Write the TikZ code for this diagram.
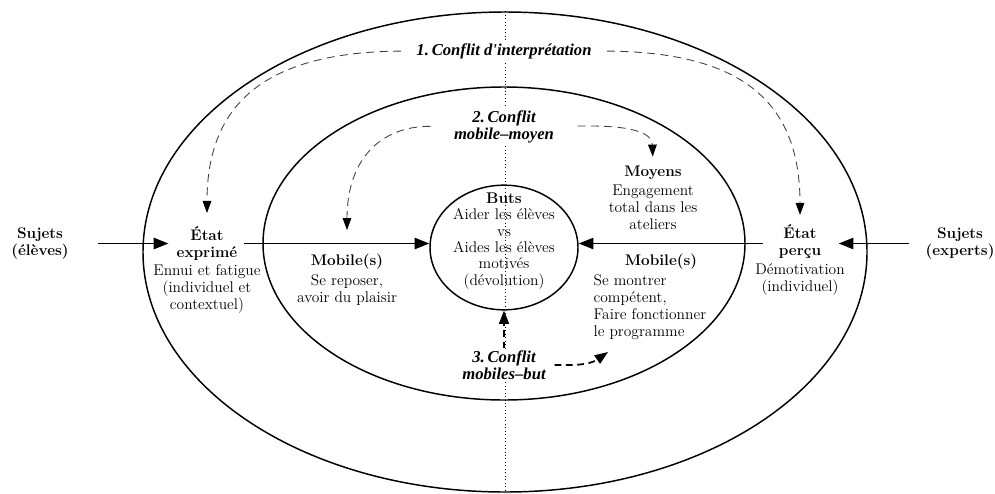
\documentclass[tikz,border=0pt]{standalone}
\usepackage{fontspec}
\newfontfamily\conffont{Liberation Serif}
\usetikzlibrary{shapes.geometric,arrows.meta}
\begin{document}
\begin{tikzpicture}[x=0.75pt,y=-0.75pt]
\tikzset{
  ring/.style={draw, ellipse, line width=1.1pt, inner sep=0pt},
  ttl/.style={font=\fontsize{11.5}{12.75}\selectfont\bfseries, align=center, inner sep=1pt},
  txt/.style={font=\fontsize{11.6}{12.75}\selectfont, align=center, inner sep=1pt},
  conf/.style={font=\conffont\fontsize{12.5}{12.75}\selectfont\bfseries\itshape, align=center, fill=white, inner sep=1.5pt},
  flow/.style={line width=1.1pt, -{Triangle[length=11pt,width=8.5pt]}},
  conflict/.style={line width=0.65pt, draw=black!75, dash pattern=on 6pt off 4pt, -{Triangle[length=9pt,width=6.5pt,black]}},
  conflictb/.style={line width=1.3pt, dash pattern=on 5pt off 3.5pt, -{Triangle[length=10pt,width=7.5pt]}},
  axisline/.style={dotted, line width=0.6pt}
}
\useasboundingbox (0,0) rectangle (995,493);

% ellipses
\node[ring, minimum width=543pt, minimum height=360pt] (outer) at (505,252) {};
\node[ring, minimum width=361.5pt, minimum height=234.75pt] (mid) at (504,243.5) {};
\node[ring, minimum width=111pt, minimum height=93.5pt] (buts) at (504,247.5) {};

% vertical dotted axis
\draw[axisline] (outer.north) -- (outer.south);

% text nodes
\node[ttl] (sujE) at (40,243.5) {Sujets\\(élèves)};
\node[ttl] (sujX) at (960,243.5) {Sujets\\(experts)};

\node[ttl] (etatEt) at (207,243.5) {État\\exprimé};
\node[txt] (etatEd) at (207,289) {Ennui et fatigue\\(individuel et\\contextuel)};

\node[ttl] (etatPt) at (800,241.5) {État\\perçu};
\node[txt] (etatPd) at (800,280) {Démotivation\\(individuel)};

\node[ttl] (mobLt) at (347,262) {Mobile(s)};
\node[txt] (mobLd) at (347,290) {Se reposer,\\avoir du plaisir};

\node[ttl] (moyT) at (653,173) {Moyens};
\node[txt] (moyD) at (653,207) {Engagement\\total dans les\\ateliers};

\node[ttl] (mobRt) at (661,262) {Mobile(s)};
\node[txt, align=left, anchor=west] (mobRd) at (592,307) {Se montrer\\compétent,\\Faire fonctionner\\le programme};

\node[txt, font=\fontsize{11.6}{12.3}\selectfont] (butsT) at (504,241) {\textbf{Buts}\\Aider les élèves\\vs\\Aides les élèves\\motivés\\(dévolution)};

\node[conf] (c1) at (504,51) {1.\,Conflit d'interprétation};
\node[conf] (c2) at (504,126.5) {2.\,Conflit\\mobile–moyen};
\node[conf] (c3) at (504,365) {3.\,Conflit\\mobiles–but};

\coordinate (prog) at (608,352);

% main flows
\draw[flow, shorten <=21pt, shorten >=5pt] (sujE.east) -- (etatEt.west);
\draw[flow, shorten <=4pt] (etatEt.east) -- (etatEt.east -| buts.west);
\draw[flow, shorten <=11pt, shorten >=12pt] (sujX.west) -- (etatPt.east |- sujX.west);
\draw[flow, shorten <=11pt] (etatPt.west |- sujX.west) -- (sujX.west -| buts.east);

% conflicts
\draw[conflict, shorten <=10pt, shorten >=9pt] (c1.west) .. controls (270,52) and (207,100) .. (etatEt.north);
\draw[conflict, shorten <=10pt, shorten >=6pt] (c1.east) .. controls (740,52) and (800,100) .. (etatPt.north);
\draw[conflict, shorten <=16pt, shorten >=17pt] (c2.west) .. controls (380,126) and (347,160) .. (mobLt.north);
\draw[conflict, shorten <=16pt, shorten >=6pt] (c2.east) .. controls (630,125) and (652,132) .. (moyT.north);
\draw[conflictb] (c3.north) -- (buts.south);
\draw[conflictb, shorten <=5pt] (c3.east) to[out=0,in=215] (prog);
\end{tikzpicture}
\end{document}
